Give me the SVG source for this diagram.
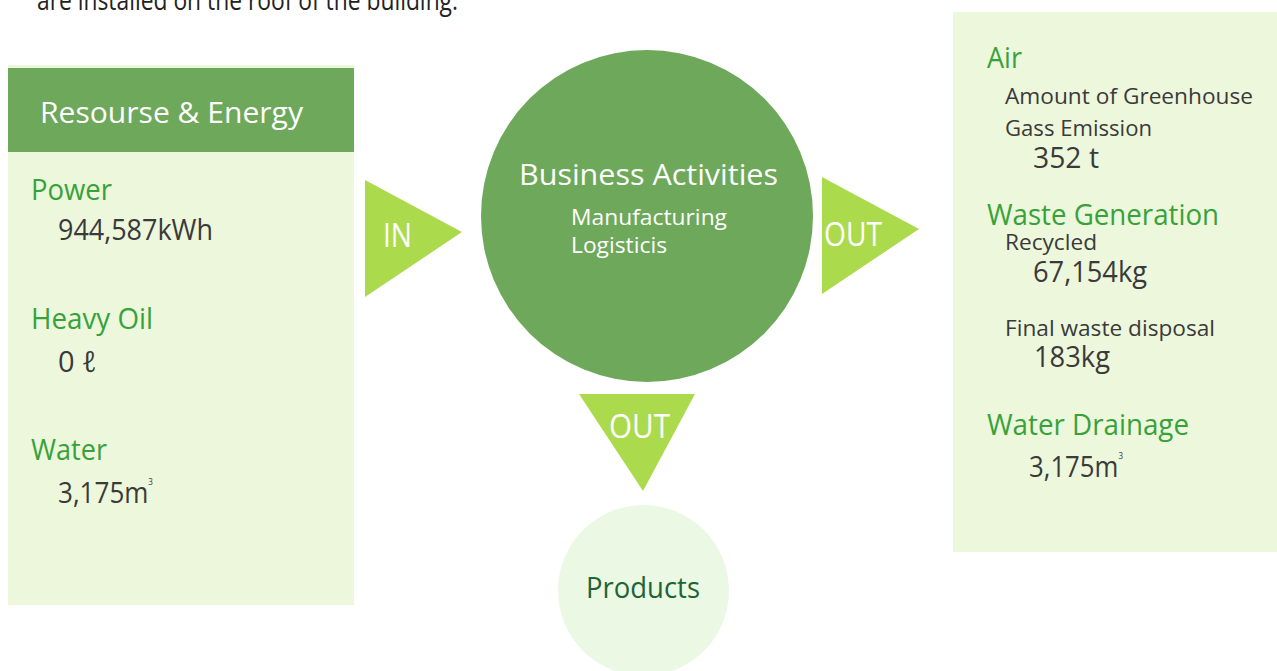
<svg xmlns="http://www.w3.org/2000/svg" width="1277" height="671" viewBox="0 0 1277 671">
<style>
text { font-family: "Open Sans", "Noto Sans", "DejaVu Sans", sans-serif; }
.panel { fill: #edf7dc; }
.head { fill: #6ea85a; }
.tri { fill: #abdb4c; }
.lbl { fill: #38a23a; font-size: 29px; }
.val { fill: #3a3a3a; font-size: 29px; }
.sub { fill: #3a3a3a; font-size: 22px; }
.wht { fill: #ffffff; }
.sup { font-size: 9px; }
</style>
<rect width="1277" height="671" fill="#ffffff"/>
<text x="37" y="10" fill="#222222" font-size="28" textLength="421" lengthAdjust="spacingAndGlyphs">are installed on the roof of the building.</text>

<g id="resource-energy">
  <rect class="panel" x="8" y="65" width="346" height="540"/>
  <rect class="head" x="8" y="68" width="346" height="84"/>
  <text class="wht" x="40" y="123" font-size="30" textLength="263" lengthAdjust="spacingAndGlyphs">Resourse &amp; Energy</text>
  <text class="lbl" x="31" y="200" textLength="81" lengthAdjust="spacingAndGlyphs">Power</text>
  <text class="val" x="58" y="240" textLength="155" lengthAdjust="spacingAndGlyphs">944,587kWh</text>
  <text class="lbl" x="31" y="329" textLength="122" lengthAdjust="spacingAndGlyphs">Heavy Oil</text>
  <text class="val" x="58" y="372">0 ℓ</text>
  <text class="lbl" x="31" y="460" textLength="76" lengthAdjust="spacingAndGlyphs">Water</text>
  <text class="val" x="58" y="503" textLength="95" lengthAdjust="spacingAndGlyphs">3,175m<tspan class="sup" dy="-18">3</tspan></text>
</g>

<g id="business-activities">
  <circle cx="647" cy="216" r="166" fill="#6ea85a"/>
  <text class="wht" x="519" y="185" font-size="30" textLength="259" lengthAdjust="spacingAndGlyphs">Business Activities</text>
  <text class="wht" x="571" y="225" font-size="21" textLength="156" lengthAdjust="spacingAndGlyphs">Manufacturing</text>
  <text class="wht" x="571" y="253" font-size="21" textLength="96" lengthAdjust="spacingAndGlyphs">Logisticis</text>
</g>

<g id="connectors">
  <g id="in-arrow">
    <polygon class="tri" points="365,180 462,232 365,297"/>
    <text class="wht" x="383" y="247" font-size="32" textLength="29" lengthAdjust="spacingAndGlyphs">IN</text>
  </g>
  <g id="out-right-arrow">
    <polygon class="tri" points="822,177 919,229 822,294"/>
    <text class="wht" x="824" y="246" font-size="32" textLength="58" lengthAdjust="spacingAndGlyphs">OUT</text>
  </g>
  <g id="out-down-arrow">
    <polygon class="tri" points="579,394 695,394 643,491"/>
    <text class="wht" x="609" y="438" font-size="32" textLength="61" lengthAdjust="spacingAndGlyphs">OUT</text>
  </g>
</g>

<g id="products">
  <circle cx="643.5" cy="590.5" r="85.5" fill="#eaf8e4"/>
  <text x="586" y="598" fill="#1f6434" font-size="29" textLength="114" lengthAdjust="spacingAndGlyphs">Products</text>
</g>

<g id="outputs">
  <rect class="panel" x="953" y="12" width="324" height="540"/>
  <text class="lbl" x="987" y="68" textLength="35" lengthAdjust="spacingAndGlyphs">Air</text>
  <text class="sub" x="1005" y="104" textLength="248" lengthAdjust="spacingAndGlyphs">Amount of Greenhouse</text>
  <text class="sub" x="1005" y="136" textLength="147" lengthAdjust="spacingAndGlyphs">Gass Emission</text>
  <text class="val" x="1033" y="168" textLength="66" lengthAdjust="spacingAndGlyphs">352 t</text>
  <text class="lbl" x="987" y="225" textLength="232" lengthAdjust="spacingAndGlyphs">Waste Generation</text>
  <text class="sub" x="1005" y="250" textLength="92" lengthAdjust="spacingAndGlyphs">Recycled</text>
  <text class="val" x="1033" y="282" textLength="114" lengthAdjust="spacingAndGlyphs">67,154kg</text>
  <text class="sub" x="1005" y="336" textLength="210" lengthAdjust="spacingAndGlyphs">Final waste disposal</text>
  <text class="val" x="1034" y="367" textLength="76" lengthAdjust="spacingAndGlyphs">183kg</text>
  <text class="lbl" x="987" y="435" textLength="202" lengthAdjust="spacingAndGlyphs">Water Drainage</text>
  <text class="val" x="1029" y="477" textLength="94" lengthAdjust="spacingAndGlyphs">3,175m<tspan class="sup" dy="-18">3</tspan></text>
</g>
</svg>
